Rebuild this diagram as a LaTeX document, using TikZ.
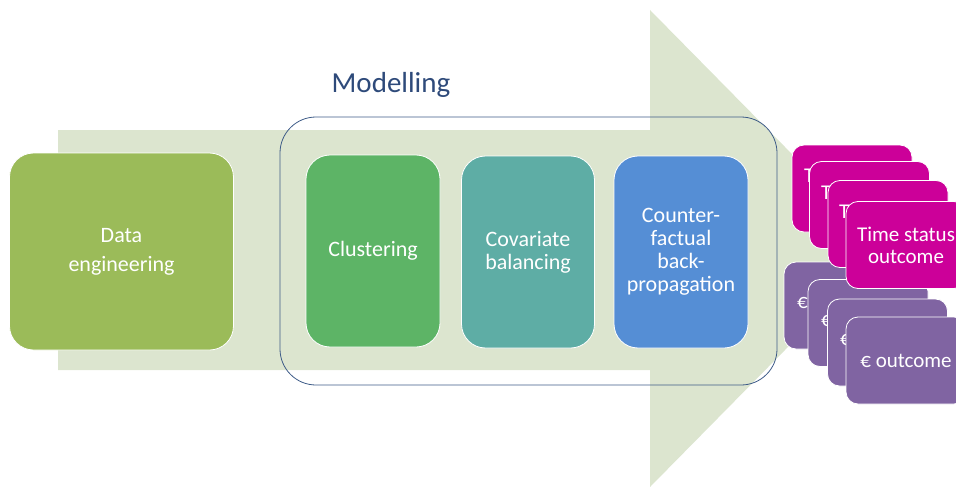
\documentclass[tikz,border=0pt]{standalone}
\usepackage{fontspec}
\setmainfont{Carlito}
\definecolor{arrowgreen}{HTML}{DCE5CF}
\definecolor{datag}{HTML}{9BBB59}
\definecolor{clustg}{HTML}{5DB466}
\definecolor{covt}{HTML}{5EADA5}
\definecolor{cfb}{HTML}{558ED5}
\definecolor{pinkc}{HTML}{CC0099}
\definecolor{purpc}{HTML}{8064A2}
\definecolor{modb}{HTML}{3E5C88}
\definecolor{modt}{HTML}{2E4A7A}
\tikzset{
  stage/.style={draw=white, line width=0.8pt, rounded corners=24pt, text=white,
    align=center, font=\fontsize{22}{23}\selectfont, inner sep=0pt},
  outbox/.style={draw=white, line width=0.8pt, rounded corners=12pt, text=white,
    align=center, font=\fontsize{21}{22}\selectfont, inner sep=0pt,
    minimum width=120pt, minimum height=87pt},
  peek/.style={text=white, font=\fontsize{21}{22}\selectfont, inner sep=0pt, anchor=west},
}
\begin{document}
\begin{tikzpicture}[x=1pt,y=-1pt]
\useasboundingbox (0,0) rectangle (956,487);
% big arrow
\fill[arrowgreen] (58,130) -- (650,130) -- (650,10) -- (885,248.5) -- (650,487) -- (650,370) -- (58,370) -- cycle;
% modelling frame
\node[draw=modb, line width=0.8pt, rounded corners=36pt, minimum width=497pt, minimum height=268pt, inner sep=0pt] (frame) at (528.5,251) {};
\node[text=modt, font=\fontsize{29}{32}\selectfont] (modlabel) at (391,85) {Modelling};
% stages
\node[stage, fill=datag, minimum width=224pt, minimum height=197pt, font=\fontsize{22}{29}\selectfont] (data) at (121.5,251.5) {Data\\engineering};
\node[stage, fill=clustg, minimum width=134pt, minimum height=192pt] (clust) at (373,251) {Clustering};
\node[stage, fill=covt, minimum width=133pt, minimum height=192pt] (cov) at (528,252) {Covariate\\balancing};
\node[stage, fill=cfb, minimum width=134pt, minimum height=192pt] (cf) at (681,252) {Counter-\\factual\\back-\\propagation};
% purple outcome stack
\node[outbox, fill=purpc] (e1) at (844,305.5) {};
\node[peek] (e1t) at (797,303) {€};
\node[outbox, fill=purpc] (e2) at (868,323) {};
\node[peek] (e2t) at (821,321) {€};
\node[outbox, fill=purpc] (e3) at (887.5,342.5) {};
\node[peek] (e3t) at (840,340) {€};
\node[outbox, fill=purpc] (e4) at (906,360.5) {€ outcome};
% pink outcome stack
\node[outbox, fill=pinkc] (t1) at (852,188.5) {};
\node[peek] (t1t) at (804,176) {T};
\node[outbox, fill=pinkc] (t2) at (869.5,205) {};
\node[peek] (t2t) at (821,192.5) {T};
\node[outbox, fill=pinkc] (t3) at (888,224) {};
\node[peek] (t3t) at (839,211.5) {T};
\node[outbox, fill=pinkc] (t4) at (906,245) {Time status\\outcome};
\end{tikzpicture}
\end{document}
